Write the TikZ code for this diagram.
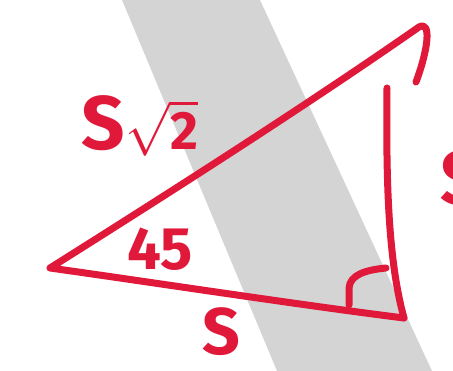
\documentclass[tikz,border=0pt]{standalone}
\usepackage{fix-cm}
\usepackage{fontspec}
\setsansfont{Fira Sans}
\definecolor{penred}{HTML}{E0193A}
\definecolor{bandgray}{HTML}{D4D4D4}
\tikzset{
  pen/.style={draw=penred, line width=7pt, line cap=round, line join=round},
  sidelabel/.style={text=penred, font=\sffamily\bfseries\fontsize{76}{76}\selectfont, inner sep=0pt},
  anglelabel/.style={text=penred, font=\sffamily\bfseries\fontsize{60}{60}\selectfont, inner sep=0pt}
}
\newcommand{\smallroot}{\fontsize{54}{54}\selectfont$\sqrt{\textsf{\bfseries 2}}$}
\begin{document}
\begin{tikzpicture}[x=1pt, y=-1pt]
    \useasboundingbox (0,0) rectangle (453,371);
    \clip (0,0) rectangle (453,371);

    % Fondo: banda gris
    \fill[bandgray] (122,0) -- (260,0) -- (432,371) -- (277,371) -- cycle;

    % Vertices
    \coordinate (left) at (50,268);
    \coordinate (tip) at (419,27);
    \coordinate (corner) at (404,318);
    \coordinate (toprt) at (387,88);

    % Triangulo
    \draw[pen] (corner) .. controls (300,305) and (150,282) .. (left)
        .. controls (150,205) and (300,110) .. (tip)
        .. controls (432,20) and (428,50) .. (416,82);
    \draw[pen] (toprt) .. controls (386,180) and (388,260) .. (corner);

    % Angulo recto
    \draw[pen] (349,305) -- (349,288) .. controls (350,275) and (365,270) .. (386,268);

    % Etiquetas
    \node[sidelabel] (hyp) at (140,126) {S\smallroot};
    \node[anglelabel] (ang) at (160,249) {45};
    \node[sidelabel, font=\sffamily\bfseries\fontsize{66}{66}\selectfont] (base) at (221,332) {S};
    \node[sidelabel] (leg) at (462,178) {S};

\end{tikzpicture}
\end{document}
